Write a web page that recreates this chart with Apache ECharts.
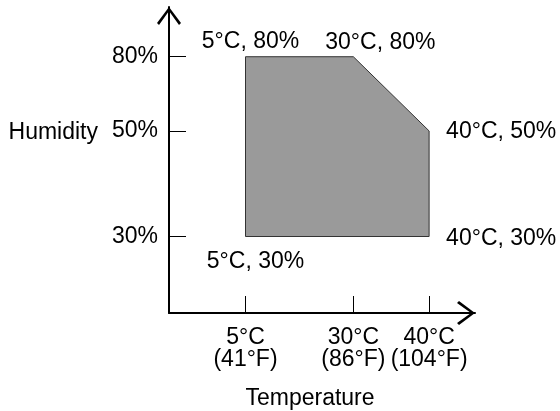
<!DOCTYPE html>
<html>
<head>
<meta charset="utf-8">
<script src="https://cdn.jsdelivr.net/npm/echarts@6/dist/echarts.min.js"></script>
<style>
html, body { margin: 0; padding: 0; background: #fff; }
#chart { width: 560px; height: 411px; }
</style>
</head>
<body>
<div id="chart"></div>
<script>
// tick levels of the two axes
const tempC = [5, 30, 40]
const tempF = [41, 86, 104]
const humidity = [30, 50, 80]
// the diagram is not to scale: each tick level sits on a schematic slot
const tempSlots = [1, 2.41, 3.4]
const humiditySlots = [1, 2.38, 3.35]

// corners of the operating range
const rangeTemp = [5, 30, 40, 40, 5]
const rangeHumidity = [80, 80, 50, 30, 30]

// where each corner's label sits
const cornerLabels = [
  { position: 'top', offset: [5, 1] },
  { position: 'top', offset: [27, 2] },
  { position: 'right', offset: [12, 1] },
  { position: 'right', offset: [12, 2] },
  { position: 'bottom', offset: [10, 9] },
]

const FONT = 'Liberation Sans, Arial, sans-serif'
const FONT_SIZE = 23
const toSlot = (levels, slots, v) => slots[levels.indexOf(v)]
const toLevel = (levels, slots, s) => levels[slots.indexOf(s)]

// open chevron used as the axis arrow head (points up before rotation)
const chevron = 'path://M0 16 L12 0 L24 16 L22 18 L12 4 L2 18 Z'

const corners = rangeTemp.map((t, i) => [
  toSlot(tempC, tempSlots, t),
  toSlot(humidity, humiditySlots, rangeHumidity[i]),
])

const axisCommon = {
  type: 'value',
  min: 0,
  max: 4,
  splitLine: { show: false },
  axisLine: {
    show: true,
    symbol: ['none', chevron],
    symbolSize: [24, 18],
    symbolOffset: [0, -9],
    lineStyle: { color: '#000', width: 2 },
  },
  nameMoveOverlap: false,
  nameTextStyle: { color: '#000', fontSize: FONT_SIZE, fontFamily: FONT },
}
const tickStyle = { show: true, inside: true, length: 17, lineStyle: { color: '#000', width: 1 } }

const chart = echarts.init(document.getElementById('chart'))
chart.setOption({
  animation: false,
  grid: { left: 169, top: 7, width: 306, height: 306, outerBoundsMode: 'none', containLabel: false },
  xAxis: {
    ...axisCommon,
    name: 'Temperature',
    nameLocation: 'middle',
    nameGap: 74,
    nameTextStyle: { ...axisCommon.nameTextStyle, padding: [0, 24, 0, 0] },
    axisTick: { ...tickStyle, customValues: tempSlots },
    axisLabel: {
      customValues: tempSlots,
      margin: 14,
      color: '#000',
      fontSize: FONT_SIZE,
      lineHeight: 22,
      fontFamily: FONT,
      formatter: (s) => {
        const c = toLevel(tempC, tempSlots, s)
        return c + '°C\n(' + tempF[tempC.indexOf(c)] + '°F)'
      },
    },
  },
  yAxis: {
    ...axisCommon,
    name: 'Humidity',
    nameLocation: 'middle',
    nameRotate: 0,
    nameGap: 71,
    nameTextStyle: {
      ...axisCommon.nameTextStyle,
      align: 'right',
      verticalAlign: 'bottom',
      padding: [0, 0, 16, 0],
    },
    axisTick: { ...tickStyle, customValues: humiditySlots },
    axisLabel: {
      customValues: humiditySlots,
      margin: 11,
      color: '#000',
      fontSize: FONT_SIZE,
      fontFamily: FONT,
      formatter: (s) => toLevel(humidity, humiditySlots, s) + '%',
    },
  },
  series: [
    {
      type: 'custom',
      renderItem: (params, api) => ({
        type: 'polygon',
        shape: { points: corners.map((p) => api.coord(p)) },
        style: { fill: '#9a9a9a', stroke: '#333', lineWidth: 1 },
      }),
      data: [0],
      silent: true,
    },
    {
      type: 'scatter',
      symbolSize: 0,
      silent: true,
      itemStyle: { opacity: 1 },
      data: corners.map((p, i) => ({
        value: p,
        label: {
          show: true,
          position: cornerLabels[i].position,
          offset: cornerLabels[i].offset,
          formatter: rangeTemp[i] + '°C, ' + rangeHumidity[i] + '%',
          color: '#000',
          fontSize: FONT_SIZE,
          lineHeight: 22,
          fontFamily: FONT,
        },
      })),
    },
  ],
})
</script>
</body>
</html>
